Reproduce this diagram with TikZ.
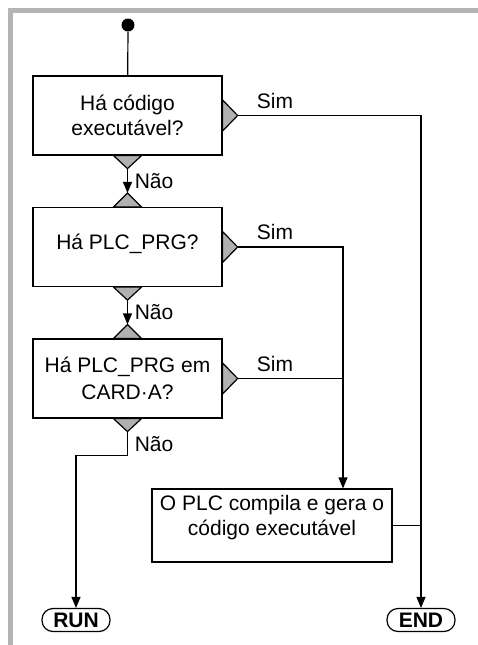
\documentclass[tikz,border=0pt]{standalone}
\usepackage{fontspec}
\setmainfont{Liberation Sans}
\usepackage{tikz}
\usetikzlibrary{arrows.meta,positioning}
\definecolor{framegray}{HTML}{B4B4B4}
\definecolor{tipgray}{HTML}{B0B0B0}

\begin{document}
\begin{tikzpicture}[x=0.5pt, y=-0.5pt, node distance=65.75pt,
  every node/.style={font=\fontsize{10.5}{12.5}\selectfont},
  box/.style={rectangle, draw, line width=0.6pt, minimum width=94.5pt, minimum height=39.5pt, align=center, inner sep=0pt},
  term/.style={rectangle, draw, line width=0.6pt, rounded corners=5.5pt, minimum width=34pt, minimum height=11.5pt, inner sep=0pt, font=\fontsize{10.5}{12.5}\selectfont\bfseries},
  tip/.style={fill=tipgray, draw, line width=0.6pt},
  flow/.style={-{Triangle[length=5.5pt, width=4.5pt]}, line width=0.6pt},
  link/.style={line width=0.6pt},
  sim/.style={pos=0, anchor=south west, xshift=6pt},
  nao/.style={midway, right}]
\useasboundingbox (0,0) rectangle (478,645);
\fill[framegray] (8,8) rectangle (478,13);
\fill[framegray] (8,8) rectangle (13,645);
\node[circle, fill, inner sep=0pt, minimum size=6.5pt] (start) at (128,25) {};
\node[box] (b1) at (127.5,115.5) {Há código\\executável?};
\node[box, below of=b1] (b2) {\raisebox{5.5pt}{Há PLC\_PRG?}};
\node[box, below of=b2] (b3) {Há PLC\_PRG em\\[1pt]CARD·A?};
\node[box, minimum width=120pt, minimum height=36.5pt] (b4) at (272,525.5) {};
\node[anchor=north, align=center] (b4txt) at (b4.north) {O PLC compila e gera o\\código executável};
\node[term] (run) at (76,620) {RUN};
\node[term] (endn) at (421,620) {END};
\coordinate (join) at (343,0);
% gray tips on the decision boxes
\filldraw[tip] (b1.east) ++(0,-15.5) -- ++(15,15.5) coordinate (b1r) -- ++(-15,15.5) -- cycle;
\filldraw[tip] (b1.south) ++(-14,0) -- ++(14,13) coordinate (b1d) -- ++(14,-13) -- cycle;
\filldraw[tip] (b2.north) ++(-14,0) -- ++(14,-14) coordinate (b2u) -- ++(14,14) -- cycle;
\filldraw[tip] (b2.east) ++(0,-15.5) -- ++(15,15.5) coordinate (b2r) -- ++(-15,15.5) -- cycle;
\filldraw[tip] (b2.south) ++(-14,0) -- ++(14,13) coordinate (b2d) -- ++(14,-13) -- cycle;
\filldraw[tip] (b3.north) ++(-14,0) -- ++(14,-14) coordinate (b3u) -- ++(14,14) -- cycle;
\filldraw[tip] (b3.east) ++(0,-15.5) -- ++(15,15.5) coordinate (b3r) -- ++(-15,15.5) -- cycle;
\filldraw[tip] (b3.south) ++(-14,0) -- ++(14,13) coordinate (b3d) -- ++(14,-13) -- cycle;
% connectors
\draw[link] (start) -- (b1);
\draw[flow] (b1d) -- node[nao] {Não} (b2u);
\draw[flow] (b2d) -- node[nao] {Não} (b3u);
\draw[flow] (b1r) -- node[sim] {Sim} (b1r -| endn) -- (endn);
\draw[flow] (b2r) -- node[sim] {Sim} (b2r -| join) -- (b4.north -| join);
\draw[link] (b3r) -- node[sim] {Sim} (b3r -| join);
\draw[link] (b4) -- (b4 -| endn);
\draw[flow] (b3d) -- node[nao] {Não} ++(0,24) -| (run);
\end{tikzpicture}
\end{document}
